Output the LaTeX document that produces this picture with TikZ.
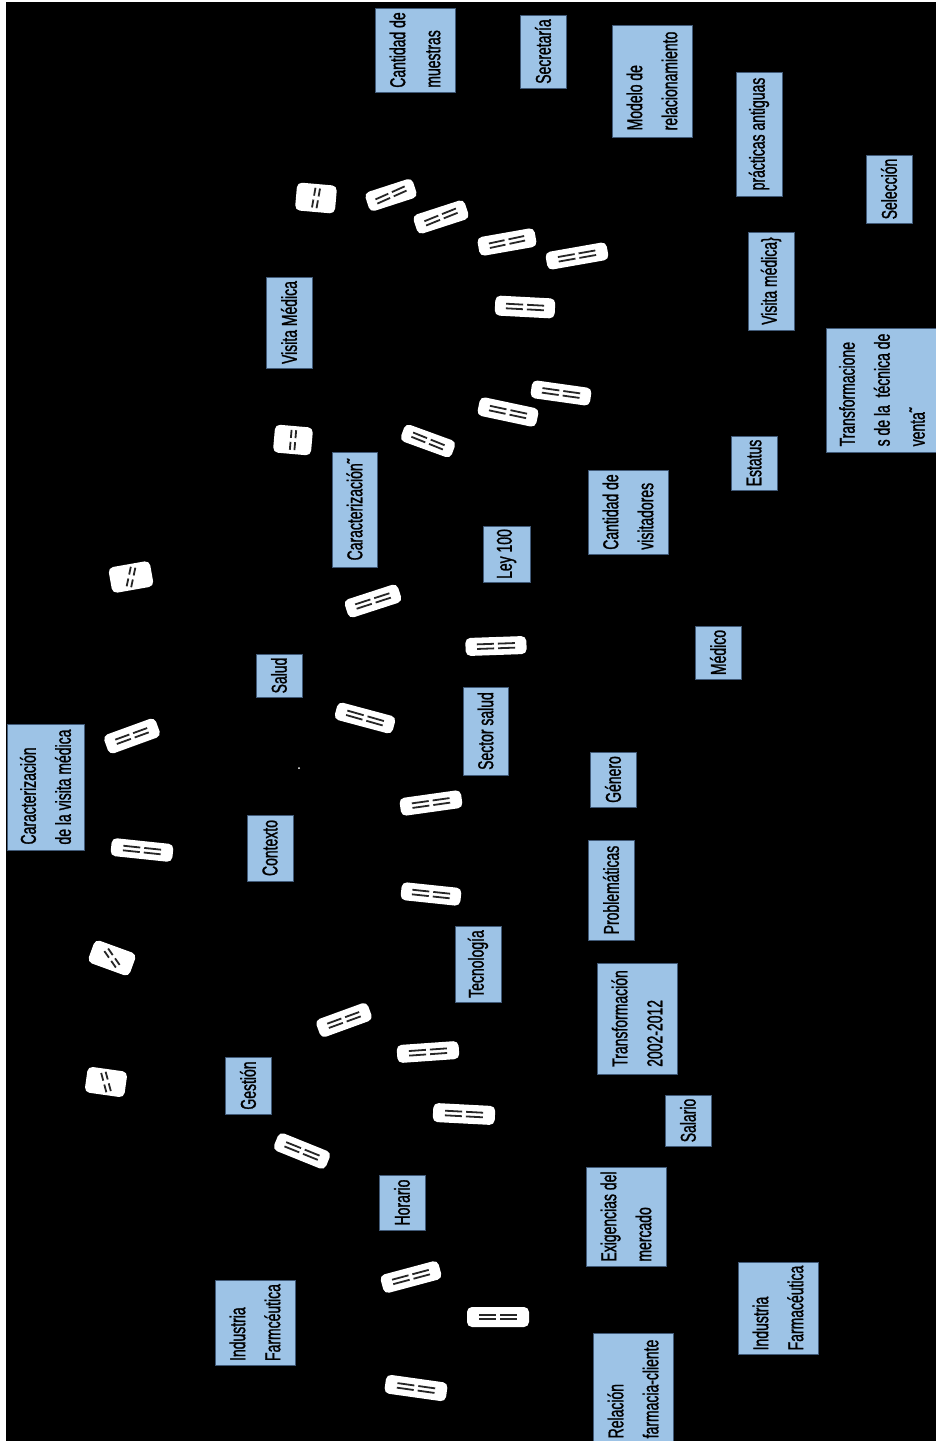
\documentclass[tikz,border=0pt]{standalone}
\usepackage{fontspec}
\setmainfont{Liberation Sans}
\newfontfamily\narrowfont[FakeStretch=0.65,FakeBold=1.2]{Liberation Sans}
\definecolor{boxfill}{RGB}{157,195,230}
\definecolor{boxline}{RGB}{65,90,120}
\tikzset{
  cbox/.style={draw=boxline, line width=0.8pt, fill=boxfill, rotate=90,
    inner sep=1pt, align=left, text=black,
    font=\narrowfont\fontsize{21.5}{35}\selectfont},
  pics/badge/.style n args={5}{code={
    \path[fill=white, rounded corners=5pt, rotate=#1] (-#2/2,-#3/2) rectangle (#2/2,#3/2);
    \draw[rotate=#4, line width=1.8pt, color=black!85]
      (-#5,2.3) -- (-2,2.3) (-#5,-2.3) -- (-2,-2.3)
      (2,2.3) -- (#5,2.3) (2,-2.3) -- (#5,-2.3);
  }}
}
\begin{document}
\begin{tikzpicture}[x=1pt,y=1pt]
\useasboundingbox (0,0) rectangle (936,-1441);
\clip (0,0) rectangle (936,-1441);
\fill[white] (0,0) rectangle (936,-1441);
\fill[black] (6,-2) rectangle (936,-1441);

% boxes
\node[cbox, minimum width=84, minimum height=80] (n1) at (415,-50) {Cantidad de\\muestras};
\node[cbox, minimum width=73, minimum height=46] (n2) at (543,-51.5) {Secretaría};
\node[cbox, minimum width=112, minimum height=80] (n3) at (652,-81) {Modelo de\\relacionamiento};
\node[cbox, minimum width=124, minimum height=46] (n4) at (759,-134) {prácticas antiguas};
\node[cbox, minimum width=68, minimum height=46] (n5) at (889,-189) {Selección};
\node[cbox, minimum width=98, minimum height=46] (n6) at (771,-281) {Visita médica\}};
\node[cbox, minimum width=124, minimum height=112] (n7) at (882,-390) {Transformacione\\s de la\ \ técnica de\\venta˜};
\node[cbox, minimum width=91, minimum height=46] (n8) at (289,-322.5) {Visita Médica};
\node[cbox, minimum width=54, minimum height=46] (n9) at (754,-463) {Estatus};
\node[cbox, minimum width=115, minimum height=45] (n10) at (354.5,-509.5) {Caracterización˜};
\node[cbox, minimum width=84, minimum height=80] (n11) at (628,-512) {Cantidad de\\visitadores};
\node[cbox, minimum width=56, minimum height=47] (n12) at (506.5,-554) {Ley 100};
\node[cbox, minimum width=53, minimum height=46] (n13) at (718,-652.5) {Médico};
\node[cbox, minimum width=43, minimum height=46] (n14) at (279,-675.5) {Salud};
\node[cbox, minimum width=88, minimum height=45] (n15) at (485.5,-731) {Sector salud};
\node[cbox, minimum width=126, minimum height=77] (n16) at (45.5,-787) {Caracterización\\de la visita médica};
\node[cbox, minimum width=55, minimum height=46] (n17) at (613,-779.5) {Género};
\node[cbox, minimum width=66, minimum height=46] (n18) at (270,-848) {Contexto};
\node[cbox, minimum width=100, minimum height=46] (n19) at (611,-890) {Problemáticas};
\node[cbox, minimum width=76, minimum height=46] (n20) at (478,-964) {Tecnología};
\node[cbox, minimum width=111, minimum height=80] (n21) at (637,-1018.5) {Transformación\\2002-2012};
\node[cbox, minimum width=57, minimum height=46] (n22) at (248,-1085.5) {Gestión};
\node[cbox, minimum width=51, minimum height=46] (n23) at (688,-1120.5) {Salario};
\node[cbox, minimum width=55, minimum height=46] (n24) at (402,-1202.5) {Horario};
\node[cbox, minimum width=99, minimum height=80] (n25) at (626,-1216.5) {Exigencias del\\mercado};
\node[cbox, minimum width=85, minimum height=80] (n26) at (255,-1322.5) {Industria\\Farmcéutica};
\node[cbox, minimum width=92, minimum height=80] (n27) at (778,-1308) {Industria\\Farmacéutica};
\node[cbox, minimum width=112, minimum height=80] (n28) at (633,-1389) {Relación\\farmacia-cliente};

% badges: box angle, width, height, mark angle, mark length
\pic (b1) at (316,-198) {badge={-5}{40}{28}{80}{10}};
\pic (b2) at (391,-195) {badge={18}{50}{20}{24}{16}};
\pic (b3) at (441,-217) {badge={18}{54}{20}{22}{17}};
\pic (b4) at (507,-242) {badge={10}{58}{19}{12}{18}};
\pic (b5) at (577,-256) {badge={10}{62}{18}{10}{19}};
\pic (b6) at (525,-307) {badge={-3}{60}{20}{-3}{19}};
\pic (b7) at (293,-440) {badge={-5}{38}{28}{85}{10}};
\pic (b8) at (428,-441) {badge={-20}{54}{18}{-22}{17}};
\pic (b9) at (508,-412) {badge={-12}{60}{19}{-12}{19}};
\pic (b10) at (561,-393) {badge={-8}{60}{18}{-8}{19}};
\pic (b11) at (131,-577) {badge={10}{42}{26}{78}{10}};
\pic (b12) at (373,-601) {badge={18}{56}{19}{18}{18}};
\pic (b13) at (496,-646) {badge={2}{61}{18}{2}{19}};
\pic (b14) at (365,-718) {badge={-15}{60}{18}{-16}{19}};
\pic (b15) at (132,-736) {badge={20}{55}{20}{20}{17}};
\pic (b16) at (431,-803) {badge={8}{62}{18}{8}{19}};
\pic (b17) at (142,-850) {badge={-6}{62}{18}{-6}{19}};
\pic (b18) at (431,-894) {badge={-6}{60}{18}{-6}{19}};
\pic (b19) at (112,-958) {badge={-20}{44}{24}{-55}{10}};
\pic (b20) at (344,-1020) {badge={20}{55}{19}{20}{17}};
\pic (b21) at (428,-1052) {badge={4}{62}{18}{4}{19}};
\pic (b22) at (464,-1114) {badge={-3}{62}{19}{-3}{19}};
\pic (b23) at (106,-1082) {badge={-8}{40}{26}{-75}{10}};
\pic (b24) at (302,-1151) {badge={-22}{56}{19}{-22}{18}};
\pic (b25) at (411,-1277) {badge={15}{60}{19}{15}{19}};
\pic (b26) at (498,-1317) {badge={0}{62}{20}{0}{19}};
\pic (b27) at (416,-1388) {badge={-8}{62}{19}{-8}{19}};

\fill[white] (299,-768) circle (1);
\end{tikzpicture}
\end{document}
